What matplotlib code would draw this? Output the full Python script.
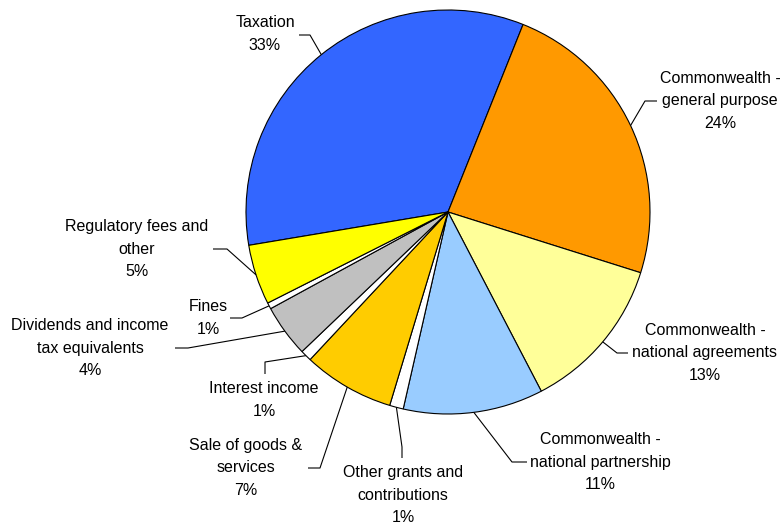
import matplotlib
matplotlib.use('Agg')
import matplotlib.pyplot as plt
import numpy as np

plt.rcParams['font.family'] = ['Liberation Sans', 'DejaVu Sans']

# revenue shares (percent)
labels = ['Taxation', 'Commonwealth -\ngeneral purpose', 'Commonwealth -\nnational agreements',
          'Commonwealth -\nnational partnership', 'Other grants and\ncontributions',
          'Sale of goods &\nservices', 'Interest income', 'Dividends and income\ntax equivalents',
          'Fines', 'Regulatory fees and\nother']
shares = [33.7, 23.8, 12.5, 11.2, 1.1, 7.3, 0.9, 4.2, 0.5, 4.8]
pct_text = ['33%', '24%', '13%', '11%', '1%', '7%', '1%', '4%', '1%', '5%']
colors = ['#3366FF', '#FF9900', '#FFFF99', '#99CCFF', '#FFFFFF',
          '#FFCC00', '#FFFFFF', '#C0C0C0', '#FFFFFF', '#FFFF00']

W, H = 784, 525
fig = plt.figure(figsize=(W / 100, H / 100), dpi=100)
ax = fig.add_axes([0, 0, 1, 1])
ax.set_xlim(0, W)
ax.set_ylim(0, H)
ax.set_aspect('equal')
ax.axis('off')

cx, cy, r = 448, H - 212, 202
wedges, _ = ax.pie(shares, colors=colors, startangle=189.5, counterclock=False,
                   center=(cx, cy), radius=r, frame=True,
                   wedgeprops=dict(edgecolor='black', linewidth=0.8))
ax.set_xlim(0, W)
ax.set_ylim(0, H)
ax.axis('off')

# label placement in pixel coords (from top): text centre, then leader elbow points
text_pos = [(265, 34), (720, 101), (705, 353), (600, 462), (403, 495),
            (246, 468), (264, 400), (90, 348), (208, 318), (137, 249)]
elbows = [[(299, 35), (310, 35)], [(657, 101), (645, 101)], [(628, 353), (617, 353)],
          [(527, 462), (512, 462)], [(402, 458), (402, 447)], [(308, 468), (320, 468)],
          [(265, 374), (265, 362)], [(175, 348), (188, 348)], [(230, 318), (242, 318)],
          [(213, 249), (227, 249)]]

pitch = 22.5
for w, lab, pct, (tx, ty), elb in zip(wedges, labels, pct_text, text_pos, elbows):
    lines = lab.split('\n') + [pct]
    n = len(lines)
    for i, line in enumerate(lines):
        y = ty + (i - (n - 1) / 2) * pitch
        ax.text(tx, H - y, line, ha='center', va='center', fontsize=11.5, color='black')
    mid = np.deg2rad((w.theta1 + w.theta2) / 2)
    ex, ey = cx + r * np.cos(mid), cy + r * np.sin(mid)
    xs = [p[0] for p in elb] + [ex]
    ys = [H - p[1] for p in elb] + [ey]
    ax.plot(xs, ys, color='black', linewidth=0.8, solid_capstyle='butt')

fig.savefig('out.png', dpi=100)
